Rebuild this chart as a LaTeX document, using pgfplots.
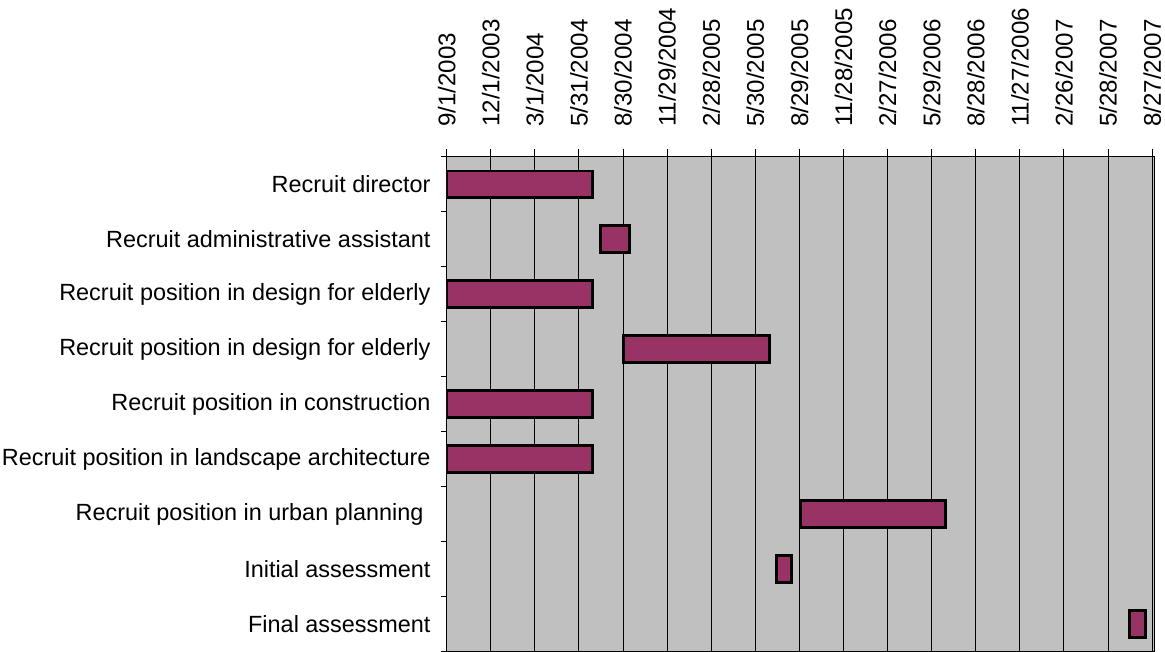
\documentclass[border=0pt]{standalone}
\usepackage{pgfplots}
\pgfplotsset{compat=1.18}
\usepackage{fontspec}
\setmainfont{Liberation Sans}
\definecolor{bggray}{HTML}{C0C0C0}
\definecolor{plum}{HTML}{993366}
% x = days since 9/1/2003; rows top to bottom
\pgfplotstableread{
row start dur
1 0   301
2 317 61
3 0   301
4 365 302
5 0   301
6 0   301
7 730 300
8 681 30
9 1410 32
}\gantt
\begin{document}
\fontsize{11.75}{14}\selectfont
\begin{tikzpicture}
\begin{axis}[
  scale only axis,
  width=355pt, height=248pt,
  xbar stacked, bar width=13.5pt,
  xmin=0, xmax=1461,
  ymin=0.5, ymax=9.5, y dir=reverse,
  axis background/.style={fill=bggray},
  axis line style={black, line width=0.5pt},
  xtick={0,91,...,1456},
  xticklabels={9/1/2003,12/1/2003,3/1/2004,5/31/2004,8/30/2004,11/29/2004,2/28/2005,5/30/2005,8/29/2005,11/28/2005,2/27/2006,5/29/2006,8/28/2006,11/27/2006,2/26/2007,5/28/2007,8/27/2007},
  xtick pos=right, xticklabel pos=right,
  xticklabel shift=7pt,
  x tick label style={rotate=90, anchor=west, inner ysep=2pt, font=\fontsize{12.1}{14}\selectfont},
  xmajorgrids, major grid style={black, line width=0.5pt},
  ytick={1,...,9},
  yticklabels={Recruit director, Recruit administrative assistant, Recruit position in design for elderly, Recruit position in design for elderly, Recruit position in construction, Recruit position in landscape architecture, {Recruit position in urban planning\kern0.3em}, Initial assessment, Final assessment},
  ytick pos=left,
  yticklabel shift=2.9pt,
  y tick label style={inner xsep=1pt, font=\fontsize{11.75}{14}\selectfont},
  minor ytick={0.5,1.5,...,9.5},
  major y tick style={draw=none},
  tick align=outside,
  major tick length=4pt, minor tick length=3pt,
  tick style={black, line width=0.5pt},
]
\addplot[draw=none, fill=none] table[x=start, y=row] {\gantt};
\addplot[fill=plum, draw=black, line width=1.4pt] table[x=dur, y=row] {\gantt};
\end{axis}
\end{tikzpicture}
\end{document}
